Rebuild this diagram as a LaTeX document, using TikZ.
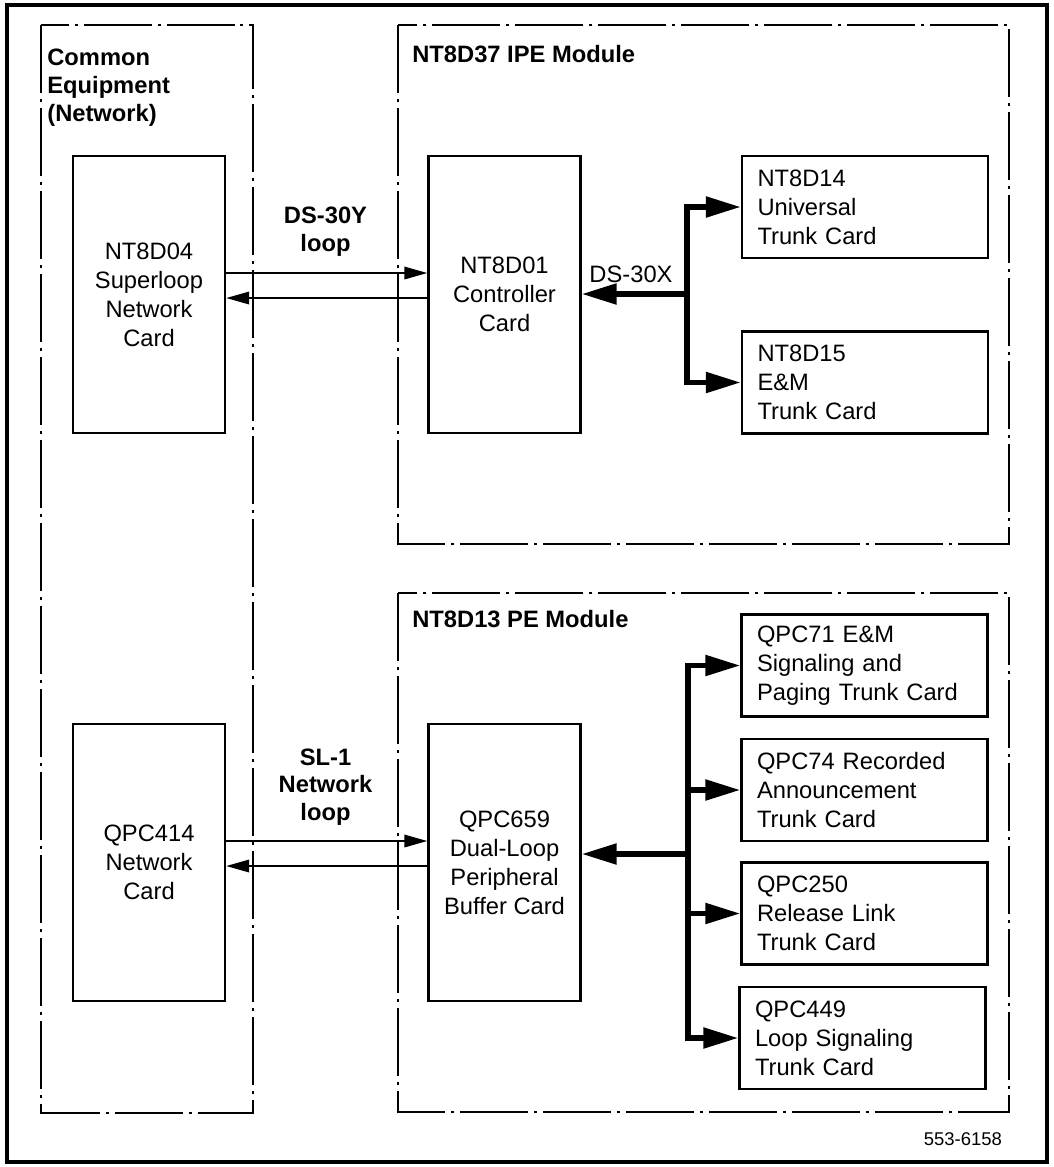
\documentclass[tikz,border=0pt]{standalone}
\usepackage{fontspec}
\setmainfont{Liberation Sans}
\usepackage{tikz}
\usetikzlibrary{arrows.meta, positioning}

\begin{document}
\begin{tikzpicture}[x=0.02cm, y=-0.02cm,
    font=\fontsize{13.5}{16.5}\selectfont,
    card/.style={draw, line width=1.4pt, minimum width=3.04cm, minimum height=5.54cm, align=center, inner sep=0pt},
    trunk/.style={draw, line width=1.4pt, minimum width=4.92cm, minimum height=2.04cm, text width=4.3cm, align=left, inner sep=0pt},
    module/.style={line width=1.4pt, dash pattern=on 1.36cm off 0.12cm on 0.06cm off 0.12cm},
    modtitle/.style={font=\fontsize{13.5}{15.8}\selectfont\bfseries, align=left, inner sep=0pt},
    loopline/.style={line width=1.1pt, -{Triangle[length=0.46cm, width=0.25cm]}},
    busarrow/.style={line width=3.1pt, -{Triangle[length=0.7cm, width=0.4cm]}}]
    \useasboundingbox (0,0) rectangle (1054,1167);
    % 1. Khung ngoai va cac module
    \draw[line width=2pt] (7,5) rectangle (1047,1162);
    \draw[module] (41,25) rectangle (253,1113);
    \draw[module] (398,25) rectangle (1009,544);
    \draw[module] (398,593) rectangle (1009,1112);
    \node[modtitle, anchor=north west] (ce) at (47,49) {Common\\Equipment\\(Network)};
    \node[modtitle, anchor=base west] (ipe) at (412,62) {NT8D37 IPE Module};
    \node[modtitle, anchor=base west] (pe) at (412,627) {NT8D13 PE Module};

    % 2. Cac card
    \node[card] (nt8d04) at (149,294.5) {NT8D04\\Superloop\\Network\\Card};
    \node[card] (nt8d01) at (504.5,294.5) {NT8D01\\Controller\\Card};
    \node[trunk] (nt8d14) at (865,207) {NT8D14\\Universal\\Trunk Card};
    \node[trunk] (nt8d15) at (865,382.5) {NT8D15\\E\&M\\Trunk Card};

    \node[card] (qpc414) at (149,862.5) {QPC414\\Network\\Card};
    \node[card] (qpc659) at (504.5,862.5) {QPC659\\Dual-Loop\\Peripheral\\Buffer Card};
    \node[trunk] (qpc71) at (864.5,665.5) {QPC71 E\&M\\Signaling and\\Paging Trunk Card};
    \node[trunk] (qpc74) at (864.5,790) {QPC74 Recorded\\Announcement\\Trunk Card};
    \node[trunk] (qpc250) at (864.5,913.5) {QPC250\\Release Link\\Trunk Card};
    \node[trunk] (qpc449) at (862.5,1038) {QPC449\\Loop Signaling\\Trunk Card};

    % 3. Loop giua cac module
    \draw[loopline] ([yshift=0.43cm]nt8d04.east) -- ([yshift=0.43cm]nt8d01.west);
    \draw[loopline] ([yshift=-0.07cm]nt8d01.west) -- ([yshift=-0.07cm]nt8d04.east);
    \node[modtitle, align=center] (ds30y) at (325.5,231.5) {DS-30Y\\loop};
    \draw[loopline] ([yshift=0.43cm]qpc414.east) -- ([yshift=0.43cm]qpc659.west);
    \draw[loopline] ([yshift=-0.07cm]qpc659.west) -- ([yshift=-0.07cm]qpc414.east);
    \node[modtitle, align=center] (sl1) at (325.5,787) {SL-1\\Network\\loop};

    % 4. Bus DS-30X
    \coordinate (ipebus) at (687,294);
    \draw[busarrow] (ipebus) -- (nt8d01.east |- ipebus);
    \draw[busarrow] (ipebus) |- (nt8d14.west);
    \draw[busarrow] (ipebus) |- (nt8d15.west);
    \node[anchor=base] (ds30x) at (631,282) {DS-30X};

    % 5. Bus PE
    \coordinate (pebus) at (688,854);
    \draw[busarrow] (pebus) -- (qpc659.east |- pebus);
    \foreach \c in {qpc71, qpc74, qpc250, qpc449}
        \draw[busarrow] (pebus) |- (\c.west);

    \node[anchor=base east, font=\fontsize{10.5}{12}\selectfont] (fig) at (1008,1145) {553-6158};
\end{tikzpicture}
\end{document}
